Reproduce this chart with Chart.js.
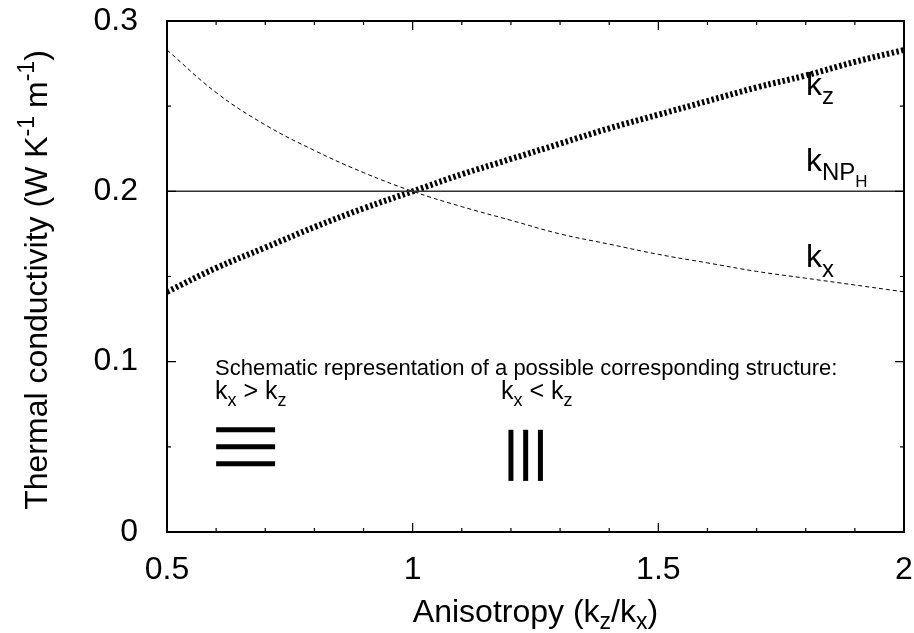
<!DOCTYPE html>
<html>
<head>
<meta charset="utf-8">
<script src="https://cdn.jsdelivr.net/npm/chart.js@4.4.0/dist/chart.umd.min.js"></script>
<style>
  html, body { margin: 0; padding: 0; background: #fff; }
</style>
</head>
<body>
<canvas id="chart1" width="914" height="633"></canvas>
<script>
  // data
  const anisotropy = [0.5, 0.6, 0.7, 0.8, 0.9, 1.0, 1.1, 1.2, 1.3, 1.4, 1.5, 1.6, 1.7, 1.8, 1.9, 2.0];
  const kzValues = [0.141, 0.155, 0.167, 0.179, 0.190, 0.200, 0.210, 0.219, 0.228, 0.237, 0.245, 0.253, 0.261, 0.268, 0.276, 0.283];
  const kxValues = [0.283, 0.258, 0.239, 0.224, 0.211, 0.200, 0.191, 0.183, 0.175, 0.169, 0.163, 0.158, 0.153, 0.149, 0.145, 0.141];
  const kNpValue = 0.2;

  // schematic layers (data coords)
  const layerRowsY = [0.06, 0.05, 0.04];
  const layerRowsX = [0.6, 0.72];
  const layerColsX = [1.2, 1.23, 1.26];
  const layerColsY = [0.03, 0.06];

  const xTicks = [0.5, 1, 1.5, 2];
  const xMinor = [0.6, 0.7, 0.8, 0.9, 1.1, 1.2, 1.3, 1.4, 1.6, 1.7, 1.8, 1.9];
  const yTicks = [0, 0.1, 0.2, 0.3];
  const yMinor = [0.05, 0.15, 0.25];

  const FONT = "'Liberation Sans', Arial, Helvetica, sans-serif";
  const ink = "#000";

  const pts = (xs, ys) => xs.map((x, i) => ({ x: x, y: ys[i] }));

  // draw text runs with sub/superscripts, returns end x
  const drawRuns = (ctx, runs, x, y) => {
    runs.forEach((r) => {
      ctx.font = r.size + "px " + FONT;
      ctx.fillText(r.t, x, y + (r.dy || 0));
      x += ctx.measureText(r.t).width + (r.gap || 0);
    });
    return x;
  };
  const runsWidth = (ctx, runs) => {
    let w = 0;
    runs.forEach((r) => {
      ctx.font = r.size + "px " + FONT;
      w += ctx.measureText(r.t).width + (r.gap || 0);
    });
    return w;
  };

  const decorPlugin = {
    id: "decor",
    afterDraw(chart) {
      const { ctx, chartArea: a, scales } = chart;
      const xs = scales.x, ys = scales.y;
      ctx.save();
      ctx.strokeStyle = ink;
      ctx.fillStyle = ink;

      // frame
      ctx.lineWidth = 2;
      ctx.strokeRect(a.left, a.top, a.right - a.left, a.bottom - a.top);

      // inward ticks, mirrored
      ctx.lineWidth = 1.2;
      const tickX = (v, len) => {
        const px = xs.getPixelForValue(v);
        ctx.beginPath();
        ctx.moveTo(px, a.bottom); ctx.lineTo(px, a.bottom - len);
        ctx.moveTo(px, a.top); ctx.lineTo(px, a.top + len);
        ctx.stroke();
      };
      const tickY = (v, len) => {
        const py = ys.getPixelForValue(v);
        ctx.beginPath();
        ctx.moveTo(a.left, py); ctx.lineTo(a.left + len, py);
        ctx.moveTo(a.right, py); ctx.lineTo(a.right - len, py);
        ctx.stroke();
      };
      xTicks.forEach((v) => tickX(v, 9));
      xMinor.forEach((v) => tickX(v, 4));
      yTicks.forEach((v) => tickY(v, 9));
      yMinor.forEach((v) => tickY(v, 4));

      ctx.textBaseline = "alphabetic";
      ctx.textAlign = "left";

      // x title
      const xTitle = [
        { t: "Anisotropy (k", size: 32 },
        { t: "z", size: 23, dy: 7 },
        { t: "/k", size: 32 },
        { t: "x", size: 23, dy: 7 },
        { t: ")", size: 32 },
      ];
      const xw = runsWidth(ctx, xTitle);
      drawRuns(ctx, xTitle, (a.left + a.right) / 2 - xw / 2, 622);

      // y title (rotated)
      const yTitle = [
        { t: "Thermal conductivity (W K", size: 32 },
        { t: "-1", size: 23, dy: -13, gap: 8 },
        { t: "m", size: 32 },
        { t: "-1", size: 23, dy: -13 },
        { t: ")", size: 32 },
      ];
      const yw = runsWidth(ctx, yTitle);
      ctx.save();
      ctx.translate(47, 280);
      ctx.rotate(-Math.PI / 2);
      drawRuns(ctx, yTitle, -yw / 2, 0);
      ctx.restore();

      // curve labels
      drawRuns(ctx, [{ t: "k", size: 32 }, { t: "z", size: 24, dy: 9 }], 806, 95);
      drawRuns(ctx, [
        { t: "k", size: 32 },
        { t: "NP", size: 24, dy: 9 },
        { t: "H", size: 17, dy: 16 },
      ], 806, 171);
      drawRuns(ctx, [{ t: "k", size: 32 }, { t: "x", size: 24, dy: 10 }], 806, 267);

      // schematic text
      drawRuns(ctx, [{ t: "Schematic representation of a possible corresponding structure:", size: 22 }], 215, 375);
      drawRuns(ctx, [
        { t: "k", size: 25 }, { t: "x", size: 18, dy: 7 },
        { t: " > k", size: 25 }, { t: "z", size: 18, dy: 7 },
      ], 215, 399);
      drawRuns(ctx, [
        { t: "k", size: 25 }, { t: "x", size: 18, dy: 7 },
        { t: " < k", size: 25 }, { t: "z", size: 18, dy: 7 },
      ], 501, 399);

      ctx.restore();
    },
  };

  const layerSets = [];
  layerRowsY.forEach((y) => {
    layerSets.push({
      data: pts(layerRowsX, [y, y]),
      borderColor: ink, borderWidth: 5, borderCapStyle: "butt",
      pointRadius: 0, clip: false,
    });
  });
  layerColsX.forEach((x) => {
    layerSets.push({
      data: pts([x, x], layerColsY),
      borderColor: ink, borderWidth: 5, borderCapStyle: "butt",
      pointRadius: 0, clip: false,
    });
  });

  const initChart = () => {
    new Chart(document.getElementById("chart1"), {
      type: "line",
      data: {
        datasets: [
          {
            label: "kNP",
            data: pts([anisotropy[0], anisotropy[anisotropy.length - 1]], [kNpValue, kNpValue]),
            borderColor: "#333",
            borderWidth: 1.5,
            pointRadius: 0,
          },
          {
            label: "kx",
            data: pts(anisotropy, kxValues),
            borderColor: ink,
            borderWidth: 1,
            borderDash: [4, 3],
            pointRadius: 0,
            tension: 0.4,
          },
          {
            label: "kz",
            data: pts(anisotropy, kzValues),
            borderColor: ink,
            borderWidth: 6,
            borderDash: [2.5, 2.4],
            borderCapStyle: "butt",
            pointRadius: 0,
            tension: 0.4,
          },
          ...layerSets,
        ],
      },
      options: {
        responsive: false,
        animation: false,
        devicePixelRatio: 1,
        layout: { padding: { top: 21, right: 10, left: 0, bottom: 0 } },
        plugins: { legend: { display: false }, tooltip: { enabled: false } },
        scales: {
          x: {
            type: "linear",
            min: 0.5,
            max: 2,
            afterBuildTicks: (s) => { s.ticks = xTicks.map((v) => ({ value: v })); },
            afterFit: (s) => { s.height = 101; s.paddingLeft = 0; s.paddingRight = 0; },
            grid: { display: false },
            border: { display: false },
            ticks: {
              color: ink,
              font: { family: FONT, size: 32 },
              padding: 11,
              maxRotation: 0,
              callback: (v) => String(v),
            },
          },
          y: {
            type: "linear",
            min: 0,
            max: 0.3,
            afterBuildTicks: (s) => { s.ticks = yTicks.map((v) => ({ value: v })); },
            afterFit: (s) => { s.width = 167; s.paddingTop = 0; s.paddingBottom = 0; },
            grid: { display: false },
            border: { display: false },
            ticks: {
              color: ink,
              font: { family: FONT, size: 32 },
              padding: 21,
              callback: (v) => String(v),
            },
          },
        },
      },
      plugins: [decorPlugin],
    });
  };

  window.addEventListener("DOMContentLoaded", initChart);
</script>
</body>
</html>
